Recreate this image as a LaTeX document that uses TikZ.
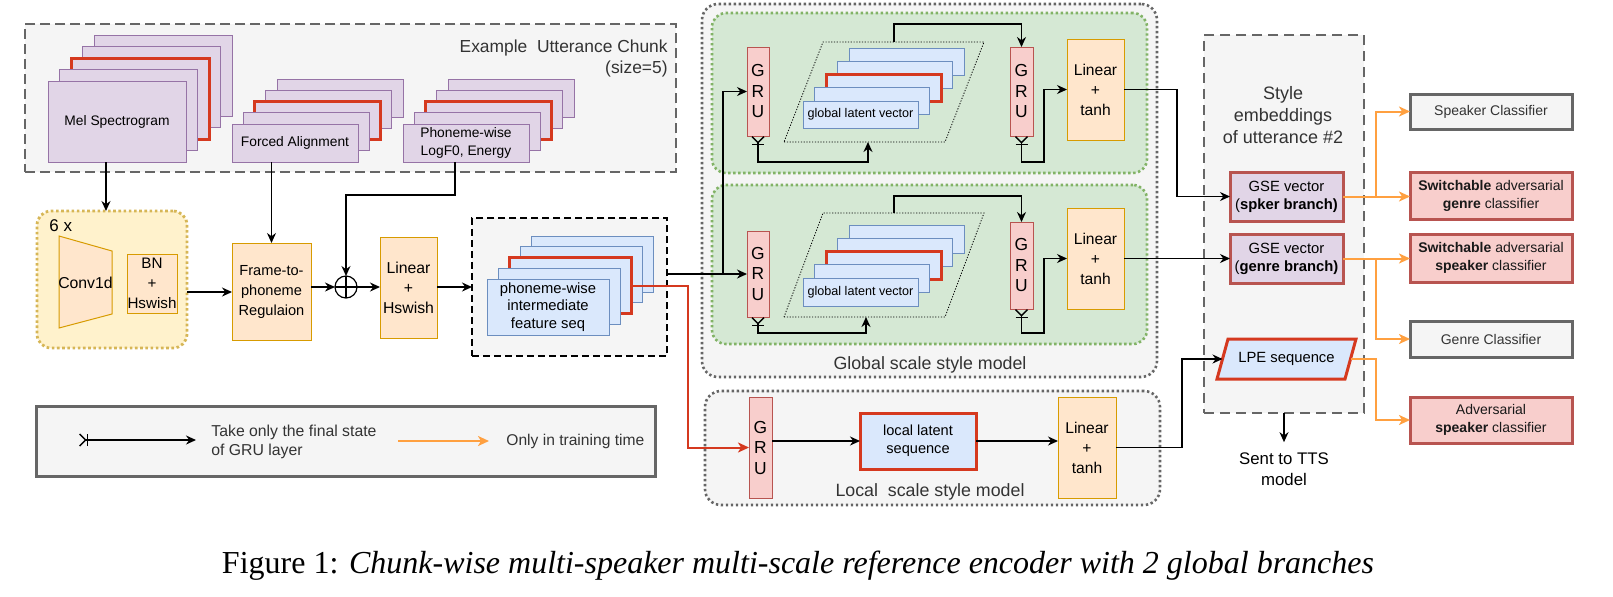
\documentclass[tikz,border=0pt]{standalone}
\usepackage{fontspec}
\setmainfont{Liberation Sans}
\newfontfamily\capfont{Liberation Serif}
\usetikzlibrary{arrows.meta,calc}

\definecolor{gfill}{HTML}{F5F5F5}
\definecolor{gline}{HTML}{666666}
\definecolor{pfill}{HTML}{E1D5E7}
\definecolor{pline}{HTML}{9673A6}
\definecolor{rline}{HTML}{D5391F}
\definecolor{yfill}{HTML}{FFF2CC}
\definecolor{yline}{HTML}{D6B656}
\definecolor{ofill}{HTML}{FFE6CC}
\definecolor{oline}{HTML}{D79B00}
\definecolor{bfill}{HTML}{DAE8FC}
\definecolor{bline}{HTML}{6C8EBF}
\definecolor{rfill}{HTML}{F8CECC}
\definecolor{rdline}{HTML}{B85450}
\definecolor{grfill}{HTML}{D5E8D4}
\definecolor{grline}{HTML}{82B366}
\definecolor{oarrow}{HTML}{FFA040}
\definecolor{txtg}{HTML}{333333}

\newcommand\fs[2]{\fontsize{#1}{#2}\selectfont}

\tikzset{
  wh/.style 2 args={minimum width={(#1)*0.5pt},minimum height={(#2)*0.5pt}},
  bx/.style={draw, inner sep=0pt, outer sep=0pt, align=center, line width=0.5pt},
  purp/.style={bx, fill=pfill, draw=pline, font=\fs{6.9}{9}},
  blu/.style={bx, fill=bfill, draw=bline},
  redlayer/.style={draw=rline, line width=1.5pt},
  nolayer/.style={},
  peach/.style={bx, fill=ofill, draw=oline, font=\fs{7.8}{10}},
  gru/.style={bx, fill=rfill, draw=rdline, font=\fs{8.7}{10.25}},
  gse/.style={bx, fill=pfill, draw=rdline, line width=1.5pt, font=\fs{7.4}{9}},
  rcls/.style={bx, fill=rfill, draw=rdline, line width=1.5pt, font=\fs{7}{9}, text=black!90},
  gcls/.style={bx, fill=gfill, draw=gline, line width=1.5pt, font=\fs{7}{9}, text=txtg},
  exbox/.style={bx, fill=gfill, draw=gline, line width=1pt, dash pattern=on 5pt off 2.5pt},
  sixbox/.style={bx, fill=yfill, draw=yline, line width=1.4pt, dash pattern=on 1.3pt off 1.3pt, rounded corners=7pt},
  featbox/.style={bx, fill=gfill, draw=black, line width=1pt, dash pattern=on 3.5pt off 2pt},
  gouter/.style={bx, fill=gfill, draw=gline, line width=1.3pt, dash pattern=on 1.2pt off 1.3pt, rounded corners=8pt},
  green/.style={bx, fill=grfill, draw=grline, line width=1.3pt, dash pattern=on 1.2pt off 1.3pt, rounded corners=7pt},
  stylebox/.style={bx, fill=gfill, draw=gline, line width=1pt, dash pattern=on 5pt off 3pt},
  legbox/.style={bx, fill=gfill, draw=gline, line width=1.5pt},
  para/.style={draw=black, line width=0.4pt, dash pattern=on 0.6pt off 0.8pt},
  arr/.style={-{Stealth[length=5pt,width=4.5pt]}, line width=0.7pt},
  gruout/.style={{Straight Barb[reversed,length=3pt,width=6pt]Bar[width=6pt]}-{Stealth[length=5pt,width=4.5pt]}, line width=0.7pt},
  oarr/.style={-{Stealth[length=5.5pt,width=5pt,inset=1.5pt]}, draw=oarrow, line width=1pt},
  rarr/.style={-{Stealth[length=5.5pt,width=5pt,inset=1.5pt]}, draw=rline, line width=1pt},
  lbl/.style={inner sep=0pt, text=txtg}
}

\newcommand\stk[9]{%
  \foreach \i/\s in {4/nolayer,3/nolayer,2/redlayer,1/nolayer}{%
    \node[#2,\s,wh={#5}{#6}] (#1-\i) at ({#3+\i*(#7)+(#5)/2},{#4+\i*(#8)+(#6)/2}) {};}%
  \node[#2,wh={#5}{#6}] (#1) at ({#3+(#5)/2},{#4+(#6)/2}) {#9};}

\begin{document}
\begin{tikzpicture}[x=0.5pt,y=-0.5pt]
\useasboundingbox (0,0) rectangle (1613,596);

% ---------- example utterance chunk ----------
\node[exbox, wh={651}{148}] (chunk) at (350.5,98) {};
\node[lbl, anchor=east, align=right, font=\fs{8.7}{10.5}] (chunklbl) at (668,58.5) {Example\ \ Utterance Chunk\\(size=5)};
\stk{mel}{purp}{48}{81}{138}{81}{11.5}{-11.5}{Mel Spectrogram}
\stk{fa}{purp}{232}{124}{126}{38}{11.25}{-11.25}{Forced Alignment}
\stk{ph}{purp}{403}{124}{126}{38}{11.25}{-11.25}{Phoneme-wise\\LogF0, Energy}

% ---------- front-end ----------
\node[sixbox, wh={150}{137}] (sixx) at (112,279.5) {};
\node[lbl, anchor=west, font=\fs{8.5}{10}, text=black] (six) at (49,226) {6 x};
\draw[fill=ofill, draw=oline, line width=0.5pt] (59,236)--(112,251)--(112,314)--(59,328)--cycle;
\node[font=\fs{7.9}{10}, inner sep=0pt] (conv) at (85.5,283) {Conv1d};
\node[peach, wh={50}{59}, font=\fs{7.6}{10}] (bn) at (152,283.5) {BN\\+\\Hswish};
\node[peach, wh={79}{97}, font=\fs{7.3}{10}] (frame) at (271.5,291.5) {Frame-to-\\phoneme\\Regulaion};
\node[circle, draw, minimum size=11pt, inner sep=0pt, outer sep=0pt, line width=0.6pt] (plus) at (346,287) {};
\draw[line width=0.6pt] (plus.north)--(plus.south) (plus.east)--(plus.west);
\node[peach, wh={57}{101}, font=\fs{7.9}{10}] (lin1) at (408.5,287.5) {Linear\\+\\Hswish};

\node[featbox, wh={195}{138}] (featbox) at (569.5,287) {};
\stk{feat}{blu, font=\fs{7.4}{8.75}}{487}{279}{122}{56}{11}{-10.75}{phoneme-wise\\intermediate\\feature seq}

\coordinate (melout) at ($(mel.south)+(-11,0)$);
\draw[arr] (melout) -- (melout |- sixx.north);
\draw[arr] (fa.south -| frame.north) -- (frame.north);
\draw[arr] ($(ph.south)+(-11,0)$) -- ++(0,33) -| (plus.north);
\draw[arr] (sixx.east |- 0,292) -- (frame.west |- 0,292);
\draw[arr] (frame.east |- plus.west) -- (plus.west);
\draw[arr] (plus.east) -- (lin1.west |- plus.east);
\draw[arr] (lin1.east |- plus.east) -- (featbox.west |- plus.east);

% ---------- global scale style model ----------
\node[gouter, wh={455}{373}] (gbox) at (929.5,190.5) {};
\node[green, wh={435}{160}] (gr1) at (929.5,93) {};
\node[green, wh={435}{159}] (gr2) at (929.5,264.5) {};
\node[lbl, font=\fs{8.9}{11}] (glbl) at (930,365) {Global scale style model};

% upper branch
\node[gru, wh={22}{89}] (g1) at (758,91.5) {G\\R\\U};
\draw[para] (784,142)--(945,142)--(984,42)--(823,42)--cycle;
\coordinate (p1b) at (868,142);
\coordinate (p1t) at (894,42);
\stk{ga}{blu, font=\fs{6.3}{8}}{803}{101}{115}{27}{11.5}{-13.25}{global latent vector}
\node[gru, wh={23}{89}] (g2) at (1021.5,91.5) {G\\R\\U};
\node[peach, wh={57}{101}] (lt1) at (1095.5,89.5) {Linear\\+\\tanh};

% lower branch
\node[gru, wh={22}{86}] (g3) at (758,274) {G\\R\\U};
\draw[para] (784,317)--(945,317)--(984,213)--(823,213)--cycle;
\coordinate (p2b) at (866,317);
\coordinate (p2t) at (894,213);
\stk{gb}{blu, font=\fs{6.3}{8}}{803}{278}{115}{28}{11.5}{-13.25}{global latent vector}
\node[gru, wh={23}{87}] (g4) at (1021.5,265.5) {G\\R\\U};
\node[peach, wh={57}{101}] (lt2) at (1095.5,258.5) {Linear\\+\\tanh};

\coordinate (br) at (723,274);
\draw[arr] (featbox.east |- g3.west) -- (g3.west);
\draw[arr] (br) |- (g1.west);
\draw[gruout] (g1.south) -- ++(0,26) -| (p1b);
\draw[arr] (p1t) -- ++(0,-18) -| (g2.north);
\draw[gruout] (g2.south) -- ++(0,26) -| ($(lt1.west)+(-23,0)$) -- (lt1.west);
\draw[gruout] (g3.south) -- ++(0,16) -| (p2b);
\draw[arr] (p2t) -- ++(0,-17) -| (g4.north);
\draw[gruout] (g4.south) -- ++(0,24) -| ($(lt2.west)+(-23,0)$) -- (lt2.west);

% ---------- local scale style model ----------
\node[gouter, wh={455}{114}] (lbox) at (932.5,448) {};
\node[lbl, font=\fs{8.9}{11}] (llbl) at (930,492) {Local\ \ scale style model};
\node[gru, wh={23}{101}] (lgru) at (760.5,447.5) {G\\R\\U};
\node[blu, draw=rline, line width=1.5pt, wh={116}{56}, font=\fs{7.3}{9}] (llat) at (918,441) {local latent\\sequence};
\node[peach, wh={58}{101}] (lt3) at (1087,447.5) {Linear\\+\\tanh};
\draw[arr] (lgru.east |- llat.west) -- (llat.west);
\draw[arr] (llat.east) -- (lt3.west |- llat.east);
\coordinate (rt) at (688,447.5);
\draw[rarr] (feat-2.east) -| (rt) -- (lgru.west);

% ---------- style embeddings ----------
\node[stylebox, wh={160}{378}] (stylebox) at (1284,224) {};
\node[lbl, align=center, font=\fs{9}{11}] (styletxt) at (1283,115) {Style\\embeddings\\of utterance \#2};
\node[gse, wh={113}{49}] (gse1) at (1286.5,196.5) {GSE vector\\(\textbf{spker branch)}};
\node[gse, wh={113}{49}] (gse2) at (1286.5,258.5) {GSE vector\\(\textbf{genre branch)}};
\draw[fill=bfill, draw=rline, line width=1.5pt] (1217,379)--(1345,379)--(1356,339)--(1228,339)--cycle;
\node[inner sep=0pt, font=\fs{7.4}{9}] (lpe) at (1286.5,359) {LPE sequence};
\coordinate (lpeL) at (1222.5,359);
\coordinate (lpeR) at (1350.5,359);

\draw[arr] (lt1.east) -- ++(53,0) |- (gse1.west);
\draw[arr] (lt2.east) -- (gse2.west);
\draw[arr] (lt3.east) -- ++(66,0) |- (lpeL);

% ---------- classifiers ----------
\node[gcls, wh={162}{35}] (spk) at (1491,111.5) {Speaker Classifier};
\node[rcls, wh={162}{47}] (swg) at (1491,195.5) {\textbf{Switchable} adversarial\\\textbf{genre} classifier};
\node[rcls, wh={162}{48}] (sws) at (1491,258) {\textbf{Switchable} adversarial\\\textbf{speaker} classifier};
\node[gcls, wh={162}{36}] (gen) at (1491,339) {Genre Classifier};
\node[rcls, wh={162}{46}] (adv) at (1491,420) {Adversarial\\\textbf{speaker} classifier};

\draw[oarr] (gse1.east) -- (gse1.east -| swg.west);
\draw[oarr] ($(gse1.east)+(33,0)$) |- (spk.west);
\draw[oarr] (gse2.east) -- (gse2.east -| sws.west);
\draw[oarr] ($(gse2.east)+(33,0)$) |- (gen.west);
\draw[oarr] (lpeR) -- ++(25.5,0) |- (adv.west);

\node[inner sep=0pt, align=center, font=\fs{8.4}{10.5}] (tts) at (1284,469) {Sent to TTS\\model};
\draw[arr] (stylebox.south) -- ($(tts.north)+(0,-10)$);

% ---------- legend ----------
\node[legbox, wh={619}{70}] (leg) at (345.5,441) {};
\coordinate (la1) at (79,440);
\coordinate (la2) at (196,440);
\draw[gruout] (la1) -- (la2);
\node[lbl, anchor=west, align=left, font=\fs{7.9}{9.5}] (legt1) at (211,441.5) {Take only the final state\\of GRU layer};
\coordinate (lo1) at (398,441);
\coordinate (lo2) at (489,441);
\draw[oarr] (lo1) -- (lo2);
\node[lbl, anchor=west, font=\fs{7.8}{9}] (legt2) at (506,441) {Only in training time};

% ---------- caption ----------
\node[inner sep=0pt, anchor=base, font=\capfont\fs{16}{19}] (cap) at (798,573) {Figure 1: \textit{Chunk-wise multi-speaker multi-scale reference encoder with 2 global branches}};
\end{tikzpicture}
\end{document}
